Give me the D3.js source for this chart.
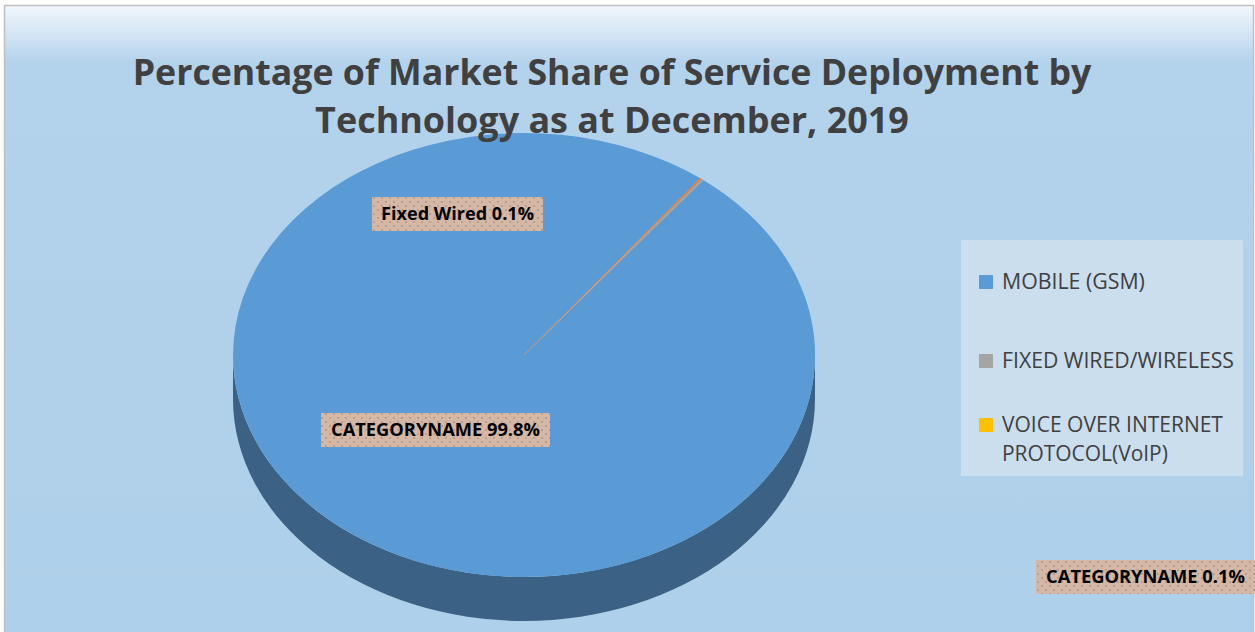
<!DOCTYPE html>
<html>
<head>
<meta charset="utf-8">
<script src="https://cdn.jsdelivr.net/npm/d3@7"></script>
<style>
  body { margin: 0; background: #fff; }
  svg { display: block; }
</style>
</head>
<body>
<div id="container"></div>
<script>
// chart data
const categories = ["MOBILE (GSM)", "FIXED WIRED/WIRELESS", "VOICE OVER INTERNET PROTOCOL(VoIP)"];
const shares = [99.8, 0.1, 0.1];
const labelNames = ["CATEGORYNAME", "Fixed Wired", "CATEGORYNAME"];
const sliceColors = ["#5b9bd5", "#ed7d31", "#a5a5a5"];
const legendColors = ["#5b9bd5", "#a5a5a5", "#ffc000"];
const titleLines = ["Percentage of Market Share of Service Deployment by", "Technology as at December, 2019"];

const W = 1255, H = 632;
const svg = d3.select("#container").append("svg")
    .attr("width", W)
    .attr("height", H);

const defs = svg.append("defs");

// background gradient
const grad = defs.append("linearGradient")
    .attr("id", "bg")
    .attr("x1", 0).attr("y1", 0).attr("x2", 0).attr("y2", 1);
grad.append("stop").attr("offset", "0").attr("stop-color", "#f2f7fc");
grad.append("stop").attr("offset", "0.09").attr("stop-color", "#b3d2ec");
grad.append("stop").attr("offset", "1").attr("stop-color", "#afd0ea");

// dotted label fill
const pat = defs.append("pattern")
    .attr("id", "dots")
    .attr("width", 8).attr("height", 8)
    .attr("patternUnits", "userSpaceOnUse");
pat.append("rect").attr("width", 8).attr("height", 8).attr("fill", "#d4b8a5");
pat.append("circle").attr("cx", 2).attr("cy", 2).attr("r", 0.9).attr("fill", "#b09585");
pat.append("circle").attr("cx", 6).attr("cy", 6).attr("r", 0.9).attr("fill", "#b09585");

svg.append("rect")
    .attr("x", 4.5).attr("y", 5.5)
    .attr("width", 1249).attr("height", 640)
    .attr("fill", "url(#bg)")
    .attr("stroke", "#bfbfbf")
    .attr("stroke-width", 1.5);

// makes a text element fit a given width
function fit(sel, width) {
    const w = sel.node().getComputedTextLength();
    const fs = parseFloat(sel.attr("font-size"));
    sel.attr("font-size", fs * width / w);
}

// 3D pie
const cx = 524, cy = 355, rx = 291, ry = 222, depth = 44;
const R = 100;
const startOffset = 38 * Math.PI / 180;

const pie = d3.pie().sort(null)
    .startAngle(startOffset)
    .endAngle(startOffset + 2 * Math.PI);
const arcs = pie(shares);
const arc = d3.arc().innerRadius(0).outerRadius(R);

// side wall (front half only)
svg.append("path")
    .attr("d", `M${cx - rx},${cy} A${rx},${ry} 0 0 0 ${cx + rx},${cy} L${cx + rx},${cy + depth} A${rx},${ry} 0 0 1 ${cx - rx},${cy + depth} Z`)
    .attr("fill", "#3b6185");

const topFace = svg.append("g")
    .attr("transform", `translate(${cx},${cy}) scale(${rx / R},${ry / R})`);
topFace.selectAll("path")
    .data(arcs)
    .enter().append("path")
    .attr("d", arc)
    .attr("fill", (d, i) => sliceColors[i])
    .attr("stroke", (d, i) => i === 0 ? "none" : sliceColors[i])
    .attr("stroke-width", 0.25);

// title, drawn over the pie
const titleWidths = [959, 594];
titleLines.forEach((t, i) => {
    const txt = svg.append("text")
        .attr("x", 612)
        .attr("y", 85 + i * 48)
        .attr("text-anchor", "middle")
        .attr("font-family", "Open Sans, sans-serif")
        .attr("font-weight", "bold")
        .attr("font-size", 34)
        .attr("fill", "#404040")
        .text(t);
    fit(txt, titleWidths[i]);
});

// data labels
const labelPos = [
    { x: 321, y: 413, w: 229, tw: 209 },
    { x: 372, y: 197, w: 171, tw: 153 },
    { x: 1036, y: 560, w: 219, tw: 199 }
];
arcs.forEach((d, i) => {
    const p = labelPos[i];
    const g = svg.append("g");
    g.append("rect")
        .attr("x", p.x).attr("y", p.y)
        .attr("width", p.w).attr("height", 34)
        .attr("fill", "url(#dots)");
    const txt = g.append("text")
        .attr("x", p.x + p.w / 2)
        .attr("y", p.y + 23)
        .attr("text-anchor", "middle")
        .attr("font-family", "Open Sans, sans-serif")
        .attr("font-weight", "bold")
        .attr("font-size", 16)
        .attr("fill", "#000")
        .text(`${labelNames[i]} ${d3.format(".1f")(d.data)}%`);
    fit(txt, p.tw);
});

// legend
svg.append("rect")
    .attr("x", 961).attr("y", 240)
    .attr("width", 282).attr("height", 236)
    .attr("fill", "#cadeee");

const legendRows = [
    { y: 282, lines: ["MOBILE (GSM)"], widths: [143] },
    { y: 361, lines: ["FIXED WIRED/WIRELESS"], widths: [232] },
    { y: 425, lines: ["VOICE OVER INTERNET", "PROTOCOL(VoIP)"], widths: [221, 166] }
];
categories.forEach((c, i) => {
    const row = legendRows[i];
    svg.append("rect")
        .attr("x", 979).attr("y", row.y - 7)
        .attr("width", 14).attr("height", 14)
        .attr("fill", legendColors[i]);
    row.lines.forEach((l, j) => {
        const txt = svg.append("text")
            .attr("x", 1002)
            .attr("y", row.y + 7 + j * 29)
            .attr("font-family", "Open Sans, sans-serif")
            .attr("font-size", 18)
            .attr("fill", "#404040")
            .text(l);
        fit(txt, row.widths[j]);
    });
});
</script>
</body>
</html>
